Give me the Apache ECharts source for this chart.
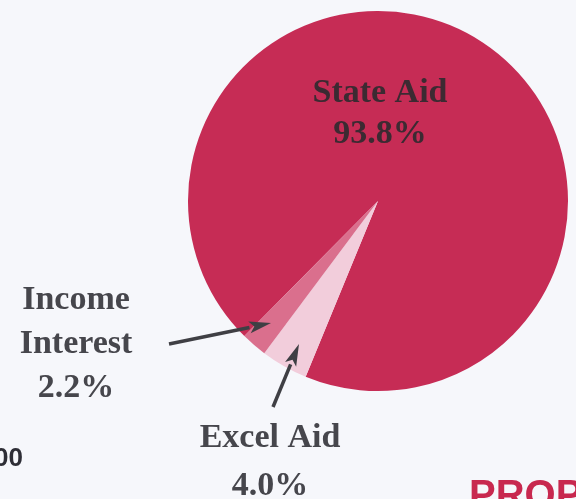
<!DOCTYPE html>
<html>
<head>
<meta charset="utf-8">
<script src="https://cdn.jsdelivr.net/npm/echarts@6/dist/echarts.min.js"></script>
<style>
  html, body { margin: 0; padding: 0; background: #f6f7fb; }
  #chart { width: 576px; height: 499px; }
</style>
</head>
<body>
<div id="chart"></div>
<script>
// data
const categories = ['State Aid', 'Excel Aid', 'Income Interest']
const shares = [93.8, 4.0, 2.2]
const sliceColors = ['#c62c55', '#f2cddb', '#da6f8d']

// label placement (centre of each text block) and line spacing
const labelPos = [
  { x: 380, y: 114, lh: 41 },
  { x: 270, y: 462, lh: 48 },
  { x: 76, y: 344, lh: 44 }
]
const labelText = ['State Aid', 'Excel Aid', 'Income\nInterest']

// arrows: [tailX, tailY, tipX, tipY]
const arrows = [
  [169, 344, 271, 323],
  [273, 407, 299, 344]
]

const chart = echarts.init(document.getElementById('chart'))

// 箭头
const arrowGraphics = []
arrows.forEach(([x1, y1, x2, y2]) => {
  const a = Math.atan2(y2 - y1, x2 - x1)
  const len = 22, half = 6
  const bx = x2 - len * Math.cos(a), by = y2 - len * Math.sin(a)
  const nx = -Math.sin(a) * half, ny = Math.cos(a) * half
  arrowGraphics.push({
    type: 'line', z: 100,
    shape: { x1, y1, x2: bx, y2: by },
    style: { stroke: '#3f3f44', lineWidth: 3.5 }
  })
  arrowGraphics.push({
    type: 'polygon', z: 100,
    shape: { points: [[x2, y2], [bx + nx, by + ny], [bx + 5 * Math.cos(a), by + 5 * Math.sin(a)], [bx - nx, by - ny]] },
    style: { fill: '#3f3f44' }
  })
})

const option = {
  backgroundColor: '#f6f7fb',
  animation: false,
  graphic: [
    ...arrowGraphics,
    {
      type: 'text', left: -6, top: 446,
      style: { text: '00', font: 'bold 26px "Liberation Sans", Arial', fill: '#2e2e36' }
    },
    {
      type: 'text', left: 469, top: 477,
      style: { text: 'PROPOSED', font: 'bold 40px "Liberation Sans", Arial', fill: '#c8284f' }
    }
  ],
  series: [{
    type: 'pie',
    center: [378, 201],
    radius: 190,
    startAngle: 225.3,
    clockwise: true,
    silent: true,
    itemStyle: { borderWidth: 0 },
    label: {
      show: true,
      position: 'outside',
      overflow: 'none',
      fontFamily: '"Liberation Serif", "Times New Roman", serif',
      fontWeight: 'bold',
      fontSize: 34,
      color: '#46464c',
      align: 'center',
      formatter: (p) => labelText[p.dataIndex] + '\n' + p.value.toFixed(1) + '%'
    },
    labelLine: { show: false },
    labelLayout: (p) => {
      const pos = labelPos[p.dataIndex]
      return { x: pos.x, y: pos.y, align: 'center', verticalAlign: 'middle' }
    },
    data: categories.map((name, i) => ({
      name,
      value: shares[i],
      itemStyle: { color: sliceColors[i] },
      label: {
        lineHeight: labelPos[i].lh,
        position: i === 0 ? 'inside' : 'outside',
        color: i === 0 ? '#3c2a32' : '#46464c'
      }
    }))
  }]
}

chart.setOption(option)
</script>
</body>
</html>
